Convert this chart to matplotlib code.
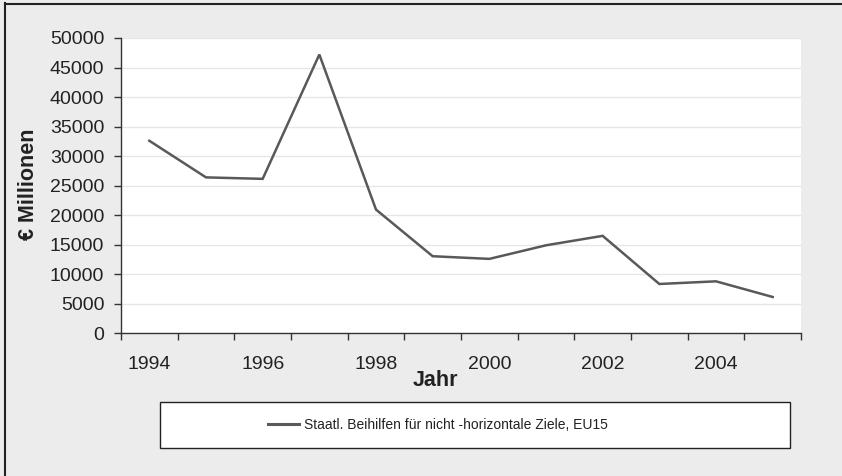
import matplotlib
matplotlib.use("Agg")
import matplotlib.pyplot as plt
from matplotlib.patches import Rectangle
from matplotlib.lines import Line2D

years = [1994, 1995, 1996, 1997, 1998, 1999, 2000, 2001, 2002, 2003, 2004, 2005]
values = [32600, 26400, 26150, 47200, 20950, 13050, 12600, 14900, 16500, 8350, 8800, 6150]
yticks = [0, 5000, 10000, 15000, 20000, 25000, 30000, 35000, 40000, 45000, 50000]
series_label = "Staatl. Beihilfen für nicht -horizontale Ziele, EU15"

plt.rcParams['font.family'] = ['Liberation Sans', 'DejaVu Sans']

W, H = 842, 476
fig = plt.figure(figsize=(W / 100, H / 100), dpi=100)
bg = '#ebeceb'
fig.patch.set_facecolor(bg)

# partial frame (left and top)
fig.add_artist(Line2D([4.5 / W, 4.5 / W], [0, 1 - 3 / H], transform=fig.transFigure, color='#222222', lw=1.5))
fig.add_artist(Line2D([4.5 / W, 1], [1 - 3.5 / H, 1 - 3.5 / H], transform=fig.transFigure, color='#222222', lw=1.5))

ax = fig.add_axes([121 / W, 1 - 333.3 / H, (801 - 121) / W, (333.3 - 38) / H])
ax.set_facecolor('white')

x = list(range(len(years)))
ax.plot(x, values, color='#595959', lw=1.8, solid_joinstyle='miter')

ax.set_xlim(-0.5, len(years) - 0.5)
ax.set_ylim(0, 50000)
ax.set_yticks(yticks)
ax.set_yticklabels([str(v) for v in yticks])
ax.yaxis.grid(True, color='#e6e6e6', lw=1)
ax.set_axisbelow(True)

ax.set_xticks([i - 0.5 for i in range(len(years) + 1)])
ax.set_xticklabels([])
ax.set_xticks(x[::2], minor=True)
ax.set_xticklabels([str(y) for y in years[::2]], minor=True)
ax.tick_params(axis='x', which='major', length=5, width=1, color='#333333', direction='out')
ax.tick_params(axis='x', which='minor', length=0, pad=16, labelsize=14, labelcolor='#222222')
ax.tick_params(axis='y', length=5, width=1, color='#333333', pad=7, labelsize=14, labelcolor='#222222')

for s in ['top', 'right']:
    ax.spines[s].set_visible(False)
for s in ['left', 'bottom']:
    ax.spines[s].set_color('#333333')
    ax.spines[s].set_linewidth(1)

fig.text(435 / W, 1 - 381 / H, 'Jahr', fontsize=15.5, fontweight='bold', ha='center', va='center', color='#222222')
fig.text(28 / W, 1 - 184 / H, '€ Millionen', fontsize=15.5, fontweight='bold', rotation=90, ha='center', va='center', color='#222222')

# legend box
fig.add_artist(Rectangle((159.5 / W, 1 - 448 / H), (789.5 - 159.5) / W, (448 - 402) / H,
                         transform=fig.transFigure, facecolor='white', edgecolor='#222222', lw=1))
handle = Line2D([], [], color='#595959', lw=2.2)
fig.legend([handle], [series_label], loc='center', bbox_to_anchor=(438 / W, 1 - 425 / H),
           frameon=False, fontsize=10, handlelength=2.2, handletextpad=0.4, labelcolor='#222222')

fig.savefig('out.png', dpi=100, facecolor=bg)
